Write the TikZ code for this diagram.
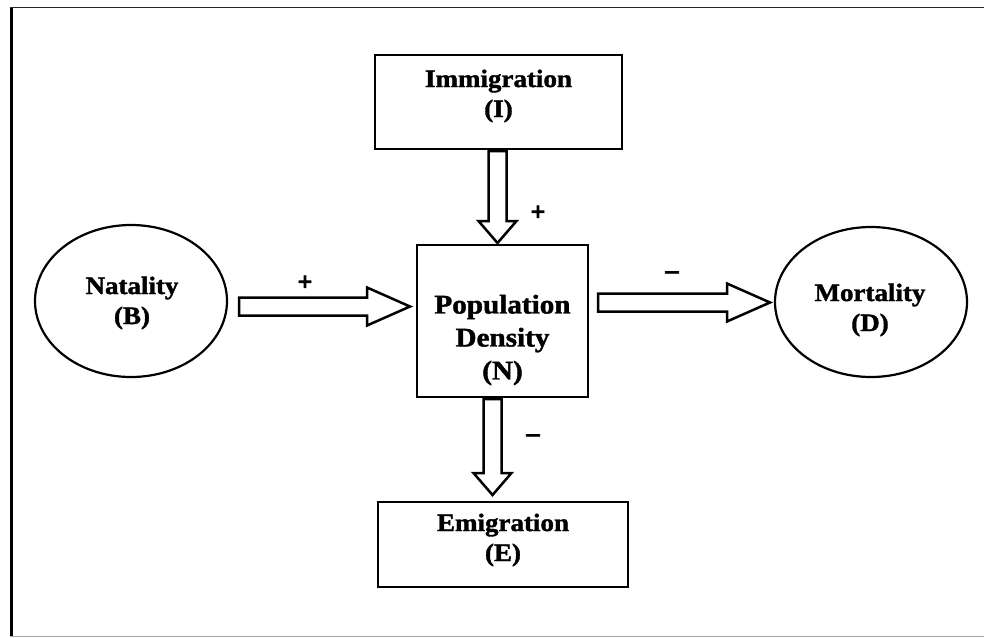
\documentclass[tikz,border=0pt]{standalone}
\usepackage{fontspec}
\setmainfont{Liberation Serif}
\usetikzlibrary{shapes.geometric}
\tikzset{
  box/.style={draw, line width=2.2pt, inner sep=0pt, rectangle},
  oval/.style={draw, line width=2.2pt, inner sep=0pt, ellipse},
  lbl/.style={align=center, font=\bfseries\fontsize{25}{30}\selectfont\addfontfeature{FakeBold=1.5,FakeStretch=1.08}, inner sep=0pt},
  biglbl/.style={align=center, font=\bfseries\fontsize{27}{33}\selectfont\addfontfeature{FakeBold=1.5,FakeStretch=1.08}, inner sep=0pt},
  sign/.style={font=\bfseries\fontsize{26}{26}\selectfont\addfontfeature{FakeBold=3}, inner sep=0pt},
  arrline/.style={draw, line width=2.5pt, fill=white, line join=miter},
}
% horizontal block arrow: #1 start x, #2 tip x, #3 centre y
\newcommand{\harrowblk}[3]{%
  \path[arrline] (#1,#3-9) -- ({#2-43},#3-9) -- ({#2-43},#3-19) -- (#2,#3)
    -- ({#2-43},#3+19) -- ({#2-43},#3+9) -- (#1,#3+9) -- cycle;}
% vertical block arrow: #1 centre x, #2 start y, #3 tip y
\newcommand{\varrowblk}[3]{%
  \path[arrline] (#1-9,#2) -- (#1-9,{#3-22}) -- (#1-19,{#3-22}) -- (#1,#3)
    -- (#1+19,{#3-22}) -- (#1+9,{#3-22}) -- (#1+9,#2) -- cycle;}
\begin{document}
\begin{tikzpicture}[x=1pt, y=-1pt]
\useasboundingbox (0,0) rectangle (984,637);
% outer frame
\draw[line width=3pt] (11,7) -- (11,637);
\draw[line width=1.8pt, black!85] (10,7.5) -- (984,7.5);
\draw[line width=1pt, black!35] (10,636) -- (984,636);

% nodes
\node[box, minimum width=247pt, minimum height=94pt] (imm) at (498.5,102) {};
\node[lbl] (immt) at (498.5,96) {Immigration\\(I)};

\node[box, minimum width=171pt, minimum height=152pt] (pop) at (502.5,321) {};
\node[biglbl] (popt) at (502.5,340) {Population\\Density\\(N)};

\node[box, minimum width=250pt, minimum height=85pt] (emi) at (503,544.5) {};
\node[lbl] (emit) at (503,540) {Emigration\\(E)};

\node[oval, minimum width=192pt, minimum height=152pt] (nat) at (131,301) {};
\node[lbl] (natt) at (132,303) {Natality\\(B)};

\node[oval, minimum width=192pt, minimum height=150pt] (mor) at (871,302) {};
\node[lbl] (mort) at (870,310) {Mortality\\(D)};

% block arrows
\harrowblk{239}{410}{306.5}
\harrowblk{598}{770}{302.5}
\varrowblk{497.5}{151}{243}
\varrowblk{492.5}{399}{495}

% signs
\node[sign] (s1) at (305,283) {+};
\node[sign] (s2) at (672,275) {--};
\node[sign] (s3) at (538,213) {+};
\node[sign] (s4) at (533,438) {--};
\end{tikzpicture}
\end{document}
